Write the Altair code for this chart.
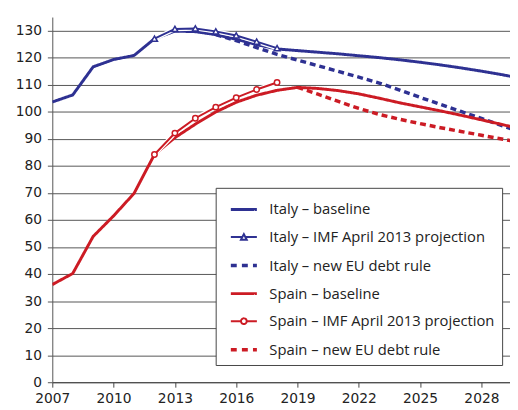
import altair as alt
import pandas as pd

# ---------------- data ----------------
years_base = list(range(2007, 2031))
italy_baseline = [103.6, 106.2, 116.6, 119.3, 120.8, 127.0, 129.8, 129.6, 128.5, 126.8,
                  124.8, 123.2, 122.6, 122.0, 121.4, 120.7, 120.0, 119.2, 118.3, 117.3,
                  116.2, 115.0, 113.7, 112.3]
spain_baseline = [36.1, 40.2, 53.9, 61.5, 69.8, 84.2, 90.4, 95.4, 99.9, 103.5,
                  106.1, 107.9, 109.0, 108.6, 107.8, 106.6, 105.0, 103.3, 101.8, 100.3,
                  98.7, 97.0, 95.3, 93.5]

years_imf = list(range(2012, 2019))
italy_imf = [127.0, 130.6, 130.8, 129.7, 128.2, 125.9, 123.5]
spain_imf = [84.2, 92.1, 97.6, 101.7, 105.2, 108.2, 110.8]

years_italy_rule = list(range(2015, 2031))
italy_rule = [128.5, 126.3, 123.7, 121.2, 119.1, 117.0, 114.9, 112.8, 110.6, 108.0,
              105.3, 102.7, 100.1, 97.5, 94.9, 92.3]
years_spain_rule = list(range(2019, 2031))
spain_rule = [109.0, 106.5, 103.8, 101.2, 99.0, 97.2, 95.6, 94.1, 92.7, 91.3, 89.9, 88.5]

series_names = [
    "Italy \u2013 baseline",
    "Italy \u2013 IMF April 2013 projection",
    "Italy \u2013 new EU debt rule",
    "Spain \u2013 baseline",
    "Spain \u2013 IMF April 2013 projection",
    "Spain \u2013 new EU debt rule",
]
x_ticks = [2007, 2010, 2013, 2016, 2019, 2022, 2025, 2028]
y_ticks = list(range(0, 131, 10))

BLUE = "#2e3192"
RED = "#cc1b24"

rows = []
for name, yrs, vals in [
    (series_names[0], years_base, italy_baseline),
    (series_names[1], years_imf, italy_imf),
    (series_names[2], years_italy_rule, italy_rule),
    (series_names[3], years_base, spain_baseline),
    (series_names[4], years_imf, spain_imf),
    (series_names[5], years_spain_rule, spain_rule),
]:
    for y, v in zip(yrs, vals):
        rows.append({"series": name, "year": y, "value": v})
df = pd.DataFrame(rows)

# ---------------- scales ----------------
xs = alt.Scale(domain=[2007, 2029.4], nice=False, zero=False)
ys = alt.Scale(domain=[0, 135], nice=False)
stroke_scale = alt.Scale(domain=series_names, range=[BLUE, BLUE, BLUE, RED, RED, RED])
width_scale = alt.Scale(type="ordinal", domain=series_names, range=[3, 2, 3.5, 3, 2, 3.5])
dash_scale = alt.Scale(type="ordinal", domain=series_names,
                       range=[[1, 0], [1, 0], [6, 4], [1, 0], [1, 0], [6, 4]])

line_path = "M-0.5,0H1.5"
tri_path = "M-0.5,0H0.36M0.64,0H1.5M0.28,0.2L0.5,-0.22L0.72,0.2Z"
dash_path = "M-0.5,0H0.04M0.35,0H0.89M1.2,0H1.5"
circ_path = "M-0.5,0H0.28M0.72,0H1.5M0.28,0A0.22,0.22 0 1,0 0.72,0A0.22,0.22 0 1,0 0.28,0Z"
shape_scale = alt.Scale(domain=series_names,
                        range=[line_path, tri_path, dash_path, line_path, circ_path, dash_path])

X = alt.X("year:Q", scale=xs, title=None,
          axis=alt.Axis(values=x_ticks, format="d", grid=False, tickSize=5,
                        labelPadding=5, labelFlush=False, labelOverlap=False,
                        domainColor="#444", tickColor="#444"))
Y = alt.Y("value:Q", scale=ys, title=None,
          axis=alt.Axis(values=y_ticks, grid=True, gridColor="#555", tickSize=5,
                        labelPadding=6, labelFlush=False, labelOverlap=False,
                        domainColor="#555", tickColor="#555"))

base = alt.Chart(df)

legend_props = dict(orient="none", legendX=166, legendY=173.5,
                    symbolSize=700, padding=7, rowPadding=5.5,
                    labelOffset=17.5, labelFontSize=15,
                    labelFont="Open Sans", labelColor="#222", labelLimit=400,
                    strokeColor="#444", fillColor="white",
                    symbolFillColor="white")

legend_layer = base.transform_filter("false").mark_point(
    filled=False, fill="white", opacity=1
).encode(
    x=X, y=Y,
    stroke=alt.Stroke("series:N", scale=stroke_scale, title=None,
                      legend=alt.Legend(**legend_props)),
    shape=alt.Shape("series:N", scale=shape_scale, title=None,
                    legend=alt.Legend(**legend_props)),
    strokeWidth=alt.StrokeWidth("series:N", scale=width_scale, title=None,
                                legend=alt.Legend(**legend_props)),
)

lines_main = base.transform_filter(
    alt.FieldOneOfPredicate(field="series",
                            oneOf=[series_names[0], series_names[2], series_names[3], series_names[5]])
).mark_line(clip=True, strokeCap="butt").encode(
    x=X, y=Y,
    stroke=alt.Stroke("series:N", scale=stroke_scale, legend=None),
    strokeWidth=alt.StrokeWidth("series:N", scale=width_scale, legend=None),
    strokeDash=alt.StrokeDash("series:N", scale=dash_scale, legend=None),
    detail="series:N",
)

imf = base.transform_filter(
    alt.FieldOneOfPredicate(field="series", oneOf=[series_names[1], series_names[4]])
)
imf_halo = imf.mark_line(clip=True, color="white", strokeWidth=4.5).encode(
    x=X, y=Y, detail="series:N")
imf_line = imf.mark_line(clip=True).encode(
    x=X, y=Y,
    stroke=alt.Stroke("series:N", scale=stroke_scale, legend=None),
    strokeWidth=alt.StrokeWidth("series:N", scale=width_scale, legend=None),
    detail="series:N",
)
tri = base.transform_filter(alt.datum.series == series_names[1]).mark_point(
    shape="triangle-up", filled=False, fill="white", opacity=1, size=38, strokeWidth=1.5
).encode(x=X, y=Y, stroke=alt.Stroke("series:N", scale=stroke_scale, legend=None))
circ = base.transform_filter(alt.datum.series == series_names[4]).mark_point(
    shape="circle", filled=False, fill="white", opacity=1, size=30, strokeWidth=1.5
).encode(x=X, y=Y, stroke=alt.Stroke("series:N", scale=stroke_scale, legend=None))

chart = alt.layer(legend_layer, lines_main, imf_halo, imf_line, tri, circ).properties(
    width=465, height=371,
    padding={"left": 45, "top": 6, "right": 0, "bottom": 24},
    autosize="none",
).configure_view(stroke=None).configure_axis(
    labelFont="DejaVu Sans", labelFontSize=14, labelColor="#222"
)

chart.save("out.html", embed_options={"renderer": "svg", "actions": False})
